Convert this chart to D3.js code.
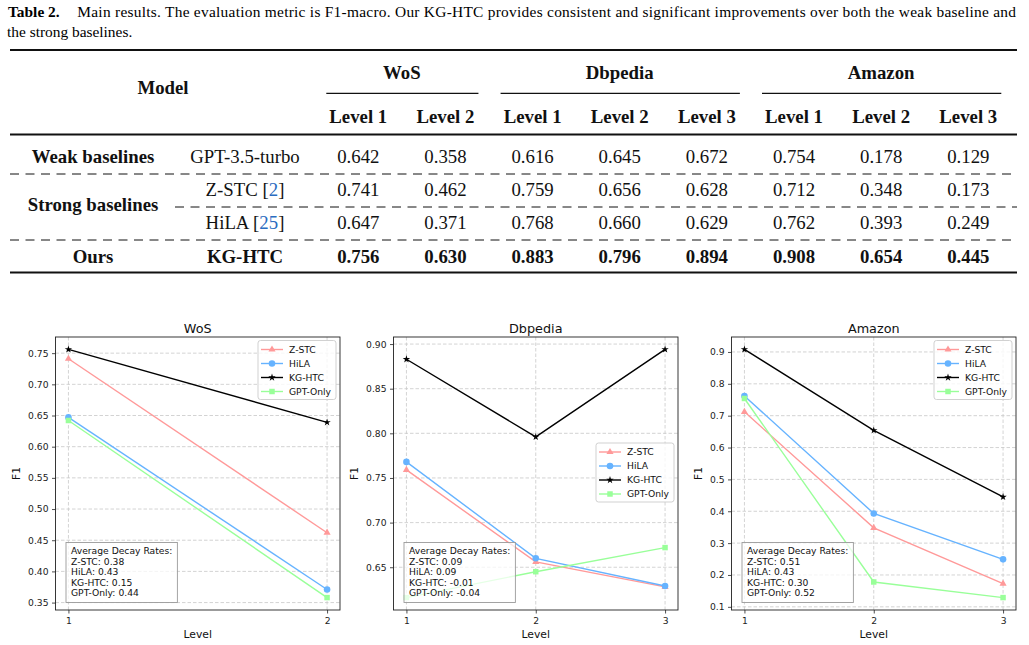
<!DOCTYPE html>
<html>
<head>
<meta charset="utf-8">
<script src="https://cdn.jsdelivr.net/npm/d3@7"></script>
<style>
  body { margin: 0; background: #fff; }
  svg { display: block; }
</style>
</head>
<body>
<svg id="fig" width="1029" height="645"></svg>
<script>
// ---- table data ----
const datasets = ['WoS', 'Dbpedia', 'Amazon'];
const levelCounts = [2, 3, 3];
const groupLabels = ['Weak baselines', 'Strong baselines', 'Ours'];
const modelLabels = ['GPT-3.5-turbo', 'Z-STC', 'HiLA', 'KG-HTC'];
const modelRefs = ['', '2', '25', ''];
const gptRow = [0.642, 0.358, 0.616, 0.645, 0.672, 0.754, 0.178, 0.129];
const zstcRow = [0.741, 0.462, 0.759, 0.656, 0.628, 0.712, 0.348, 0.173];
const hilaRow = [0.647, 0.371, 0.768, 0.660, 0.629, 0.762, 0.393, 0.249];
const kghtcRow = [0.756, 0.630, 0.883, 0.796, 0.894, 0.908, 0.654, 0.445];

// ---- chart data (values as plotted) ----
const seriesNames = ['Z-STC', 'HiLA', 'KG-HTC', 'GPT-Only'];
const wosLevels = [1, 2];
const wosValues = [[0.741, 0.462], [0.647, 0.371], [0.756, 0.639], [0.642, 0.358]];
const dbpediaLevels = [1, 2, 3];
const dbpediaValues = [[0.759, 0.656, 0.628], [0.768, 0.660, 0.629], [0.883, 0.796, 0.894], [0.616, 0.645, 0.672]];
const amazonLevels = [1, 2, 3];
const amazonValues = [[0.712, 0.348, 0.173], [0.762, 0.393, 0.249], [0.908, 0.654, 0.445], [0.754, 0.178, 0.129]];
const wosDecay = [0.38, 0.43, 0.15, 0.44];
const dbpediaDecay = [0.09, 0.09, -0.01, -0.04];
const amazonDecay = [0.51, 0.43, 0.30, 0.52];

const seriesColors = ['#ff9999', '#66b3ff', '#000000', '#99ff99'];
const seriesSymbols = [d3.symbolTriangle, d3.symbolCircle, d3.symbolStar, d3.symbolSquare];
const symbolSizes = [22, 34, 17, 30];

const serif = '"Liberation Serif", "Times New Roman", serif';
const sans = '"DejaVu Sans", sans-serif';
const svg = d3.select('#fig');

// ================= table =================
const fs = 18.8;
const base = (cy) => cy + 0.34 * fs;

svg.append('text')
    .attr('x', 8).attr('y', 17)
    .attr('font-family', serif).attr('font-size', 15.4).attr('font-weight', 'bold')
    .text('Table 2.');
svg.append('text')
    .attr('x', 77.3).attr('y', 17)
    .attr('font-family', serif).attr('font-size', 15.4)
    .attr('textLength', 938.7).attr('lengthAdjust', 'spacing')
    .text('Main results. The evaluation metric is F1-macro. Our KG-HTC provides consistent and significant improvements over both the weak baseline and');
svg.append('text')
    .attr('x', 7).attr('y', 37)
    .attr('font-family', serif).attr('font-size', 15.4)
    .text('the strong baselines.');

const tableLeft = 10;
const tableRight = 1017;
const rule = (y, w, x0 = tableLeft) => svg.append('line')
    .attr('x1', x0).attr('x2', tableRight).attr('y1', y).attr('y2', y)
    .attr('stroke', '#111').attr('stroke-width', w);
rule(50, 1.8);
rule(134.5, 1.8);
rule(272.5, 1.8);
[[174, tableLeft], [207, 175], [240, tableLeft]].forEach(([y, x0]) => {
  rule(y, 1, x0).attr('stroke-dasharray', '9,6.5');
});

const colX = d3.scalePoint().domain(d3.range(8)).range([358.3, 968.3]);
const tt = svg.append('g')
    .attr('font-family', serif).attr('font-size', fs)
    .attr('text-anchor', 'middle').attr('fill', '#111');

tt.append('text').attr('x', 163).attr('y', base(87.5))
    .attr('font-weight', 'bold').text('Model');

let colStart = 0;
datasets.forEach((name, i) => {
  const cols = d3.range(colStart, colStart + levelCounts[i]);
  const x0 = colX(cols[0]);
  const x1 = colX(cols[cols.length - 1]);
  tt.append('text').attr('x', (x0 + x1) / 2).attr('y', base(73))
      .attr('font-weight', 'bold').text(name);
  svg.append('line').attr('x1', x0 - 32).attr('x2', x1 + 33)
      .attr('y1', 93.3).attr('y2', 93.3)
      .attr('stroke', '#111').attr('stroke-width', 1.2);
  cols.forEach((c, j) => {
    tt.append('text').attr('x', colX(c)).attr('y', base(116.5))
        .attr('font-weight', 'bold').text(`Level ${j + 1}`);
  });
  colStart += levelCounts[i];
});

const rowY = [157, 190, 222.5, 257];
const groupY = [157, 205, 257];
groupLabels.forEach((g, i) => {
  tt.append('text').attr('x', 93).attr('y', base(groupY[i]))
      .attr('font-weight', 'bold').text(g);
});

const tableRows = [gptRow, zstcRow, hilaRow, kghtcRow];
tableRows.forEach((row, r) => {
  const bold = r === tableRows.length - 1 ? 'bold' : 'normal';
  const label = tt.append('text').attr('x', 245).attr('y', base(rowY[r]))
      .attr('font-weight', bold);
  label.append('tspan').text(modelLabels[r]);
  if (modelRefs[r]) {
    label.append('tspan').text(' [');
    label.append('tspan').attr('fill', '#2a6cc0').text(modelRefs[r]);
    label.append('tspan').text(']');
  }
  row.forEach((v, c) => {
    tt.append('text').attr('x', colX(c)).attr('y', base(rowY[r]))
        .attr('font-weight', bold).text(d3.format('.3f')(v));
  });
});

// ================= charts =================
const panels = [
  {title: 'WoS', levels: wosLevels, values: wosValues, decay: wosDecay, left: 55.5, fmt: '.2f', legend: 'upper'},
  {title: 'Dbpedia', levels: dbpediaLevels, values: dbpediaValues, decay: dbpediaDecay, left: 393.5, fmt: '.2f', legend: 'center'},
  {title: 'Amazon', levels: amazonLevels, values: amazonValues, decay: amazonDecay, left: 731.5, fmt: '.1f', legend: 'upper'},
];
const axW = 284.5;
const axTop = 337;
const axBottom = 610;

// matplotlib-style 5% margins
const padExtent = ([a, b]) => [a - (b - a) * 0.05, b + (b - a) * 0.05];

panels.forEach((p) => {
  const x = d3.scaleLinear().domain(padExtent(d3.extent(p.levels)))
      .range([p.left, p.left + axW]);
  const y = d3.scaleLinear().domain(padExtent(d3.extent(p.values.flat())))
      .range([axBottom, axTop]);
  const yTicks = y.ticks(8);
  const g = svg.append('g').attr('font-family', sans);

  // grid
  const grid = g.append('g').attr('stroke', '#c8c8c8').attr('stroke-width', 0.8)
      .attr('stroke-dasharray', '3.5,2');
  grid.selectAll('.gy').data(yTicks).join('line')
      .attr('x1', p.left).attr('x2', p.left + axW)
      .attr('y1', (d) => y(d)).attr('y2', (d) => y(d));
  grid.selectAll('.gx').data(p.levels).join('line')
      .attr('x1', (d) => x(d)).attr('x2', (d) => x(d))
      .attr('y1', axTop).attr('y2', axBottom);

  // axes
  const yAxis = g.append('g').attr('transform', `translate(${p.left},0)`)
      .call(d3.axisLeft(y).tickValues(yTicks).tickFormat(d3.format(p.fmt))
          .tickSize(3.5).tickPadding(3.5));
  g.append('g').attr('transform', `translate(0,${axBottom})`)
      .call(d3.axisBottom(x).tickValues(p.levels).tickFormat(d3.format('d'))
          .tickSize(3.5).tickPadding(3.5));
  g.selectAll('.domain').remove();
  g.selectAll('.tick line').attr('stroke', '#222').attr('stroke-width', 0.8);
  g.selectAll('.tick text').attr('font-family', sans).attr('font-size', 9.2).attr('fill', '#222');

  g.append('rect').attr('x', p.left).attr('y', axTop)
      .attr('width', axW).attr('height', axBottom - axTop)
      .attr('fill', 'none').attr('stroke', '#222').attr('stroke-width', 0.9);

  // labels
  g.append('text').attr('x', p.left + axW / 2).attr('y', axTop - 4.5)
      .attr('text-anchor', 'middle').attr('font-size', 12.8).attr('fill', '#111')
      .text(p.title);
  g.append('text').attr('x', p.left + axW / 2).attr('y', axBottom + 27.5)
      .attr('text-anchor', 'middle').attr('font-size', 10.8).attr('fill', '#111')
      .text('Level');
  const yb = yAxis.node().getBBox();
  g.append('text')
      .attr('transform', `translate(${p.left + yb.x - 8},${(axTop + axBottom) / 2}) rotate(-90)`)
      .attr('text-anchor', 'middle').attr('font-size', 10.8).attr('fill', '#111')
      .text('F1');

  // series
  const line = d3.line().x((d, i) => x(p.levels[i])).y((d) => y(d));
  p.values.forEach((vals, s) => {
    const sg = g.append('g');
    sg.append('path').attr('d', line(vals)).attr('fill', 'none')
        .attr('stroke', seriesColors[s]).attr('stroke-width', 1.4);
    sg.selectAll('path.m').data(vals).join('path')
        .attr('class', 'm')
        .attr('transform', (d, i) => `translate(${x(p.levels[i])},${y(d)})`)
        .attr('d', d3.symbol(seriesSymbols[s], symbolSizes[s]))
        .attr('fill', seriesColors[s]);
  });

  // legend
  const lw = 78;
  const lh = 59;
  const lx = p.left + axW - 4 - lw;
  const ly = p.legend === 'upper' ? axTop + 3.5 : (axTop + axBottom) / 2 - lh / 2 - 1;
  const lg = g.append('g').attr('transform', `translate(${lx},${ly})`);
  lg.append('rect').attr('width', lw).attr('height', lh).attr('rx', 2.5)
      .attr('fill', '#fff').attr('fill-opacity', 0.8)
      .attr('stroke', '#cccccc').attr('stroke-width', 0.9);
  seriesNames.forEach((name, s) => {
    const cy = 9 + s * 14;
    lg.append('line').attr('x1', 3).attr('x2', 25).attr('y1', cy).attr('y2', cy)
        .attr('stroke', seriesColors[s]).attr('stroke-width', 1.4);
    lg.append('path').attr('transform', `translate(14,${cy})`)
        .attr('d', d3.symbol(seriesSymbols[s], symbolSizes[s]))
        .attr('fill', seriesColors[s]);
    lg.append('text').attr('x', 31).attr('y', cy + 3.3)
        .attr('font-size', 9.2).attr('fill', '#111').text(name);
  });

  // decay rates box
  const bx = p.left + 10.5;
  const by = 542.5;
  const box = g.append('rect').attr('x', bx).attr('y', by)
      .attr('height', 60).attr('fill', '#fff').attr('fill-opacity', 0.75)
      .attr('stroke', '#9a9a9a').attr('stroke-width', 0.9);
  const lines = ['Average Decay Rates:']
      .concat(seriesNames.map((n, s) => `${n}: ${p.decay[s].toFixed(2)}`));
  const dt = g.append('text').attr('font-size', 9.2).attr('fill', '#111');
  lines.forEach((t, i) => {
    dt.append('tspan').attr('x', bx + 5).attr('y', by + 11.5 + i * 10.6).text(t);
  });
  box.attr('width', dt.node().getBBox().width + 10);
});
</script>
</body>
</html>
